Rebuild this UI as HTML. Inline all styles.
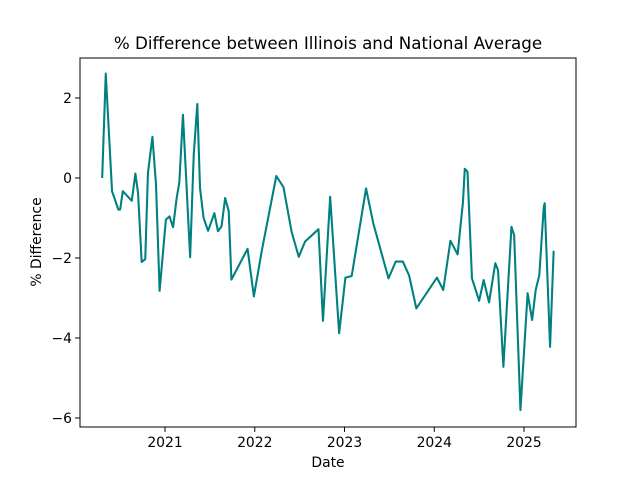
<!DOCTYPE html>
<html><head><meta charset="utf-8"><style>
html,body{margin:0;padding:0;background:#fff;}
svg{display:block;font-family:"DejaVu Sans","Liberation Sans",sans-serif;}
</style></head><body>
<svg id="chart" width="640" height="480">
<rect width="640" height="480" fill="#fff"/>
<text x="328" y="49" font-size="16.7" text-anchor="middle" fill="#000">% Difference between Illinois and National Average</text>
<g id="ticks"></g>
<path id="line" fill="none" stroke="#008080" stroke-width="2.08" stroke-linejoin="round"/>
<rect x="80" y="58" width="496" height="369" fill="none" stroke="#000" stroke-width="1"/>
<text x="328" y="467" font-size="13.9" text-anchor="middle">Date</text>
<text transform="translate(41,242) rotate(-90)" font-size="13.9" text-anchor="middle">% Difference</text>
</svg>
<script>
const dates=[2020.30,2020.34,2020.41,2020.48,2020.50,2020.53,2020.63,2020.67,2020.70,2020.74,2020.78,2020.81,2020.86,2020.90,2020.94,2021.01,2021.05,2021.09,2021.13,2021.16,2021.20,2021.28,2021.32,2021.36,2021.39,2021.43,2021.48,2021.55,2021.59,2021.63,2021.67,2021.71,2021.74,2021.92,2021.99,2022.08,2022.24,2022.32,2022.41,2022.49,2022.56,2022.71,2022.76,2022.84,2022.94,2023.01,2023.08,2023.24,2023.32,2023.49,2023.57,2023.65,2023.72,2023.80,2024.03,2024.10,2024.18,2024.26,2024.32,2024.34,2024.37,2024.42,2024.50,2024.55,2024.61,2024.68,2024.71,2024.77,2024.86,2024.89,2024.96,2025.04,2025.09,2025.13,2025.17,2025.22,2025.23,2025.29,2025.33];
const values=[0,2.61,-0.33,-0.79,-0.79,-0.33,-0.57,0.11,-0.38,-2.1,-2.03,0.13,1.03,-0.17,-2.82,-1.04,-0.96,-1.23,-0.5,-0.1,1.58,-1.98,0.58,1.85,-0.25,-1.0,-1.32,-0.88,-1.33,-1.21,-0.5,-0.83,-2.54,-1.77,-2.96,-1.8,0.05,-0.23,-1.34,-1.97,-1.59,-1.28,-3.57,-0.47,-3.88,-2.49,-2.45,-0.26,-1.13,-2.51,-2.09,-2.09,-2.44,-3.26,-2.49,-2.8,-1.57,-1.91,-0.59,0.23,0.16,-2.51,-3.07,-2.55,-3.11,-2.13,-2.3,-4.72,-1.22,-1.43,-5.8,-2.88,-3.55,-2.8,-2.43,-0.72,-0.63,-4.22,-1.82];
const xTicks=[2021,2022,2023,2024,2025];
const yTicks=[2,0,-2,-4,-6];
const L=80,R=576,T=58,B=427;
const xMin=2020.053,xMax=2025.579,yMin=-6.225,yMax=3.0;
const xs=v=>L+(v-xMin)/(xMax-xMin)*(R-L);
const ys=v=>B-(v-yMin)/(yMax-yMin)*(B-T);
const NS="http://www.w3.org/2000/svg";
const g=document.getElementById('ticks');
function mk(tag,attrs){const e=document.createElementNS(NS,tag);for(const k in attrs)e.setAttribute(k,attrs[k]);return e;}
xTicks.forEach(t=>{
  const x=xs(t);
  const l=mk('line',{x1:x,x2:x,y1:B,y2:B+4.9,stroke:'#000'});
  
  
  g.appendChild(l);
  const tx=mk('text',{x:x,y:B+20,'font-size':'13.9','text-anchor':'middle'});
  
  
  tx.textContent=t;g.appendChild(tx);
});
yTicks.forEach(t=>{
  const y=ys(t);
  const l=mk('line',{x1:L-4.9,x2:L,y1:y,y2:y,stroke:'#000'});
  
  
  g.appendChild(l);
  const tx=mk('text',{x:L-8,y:y+5,'font-size':'13.9','text-anchor':'end'});
  
  
  tx.textContent=(t<0?'\u2212'+(-t):t);g.appendChild(tx);
});
document.getElementById('line').setAttribute('d',dates.map((d,i)=>(i?'L':'M')+xs(d).toFixed(2)+','+ys(values[i]).toFixed(2)).join(''));
</script>
</body></html>
